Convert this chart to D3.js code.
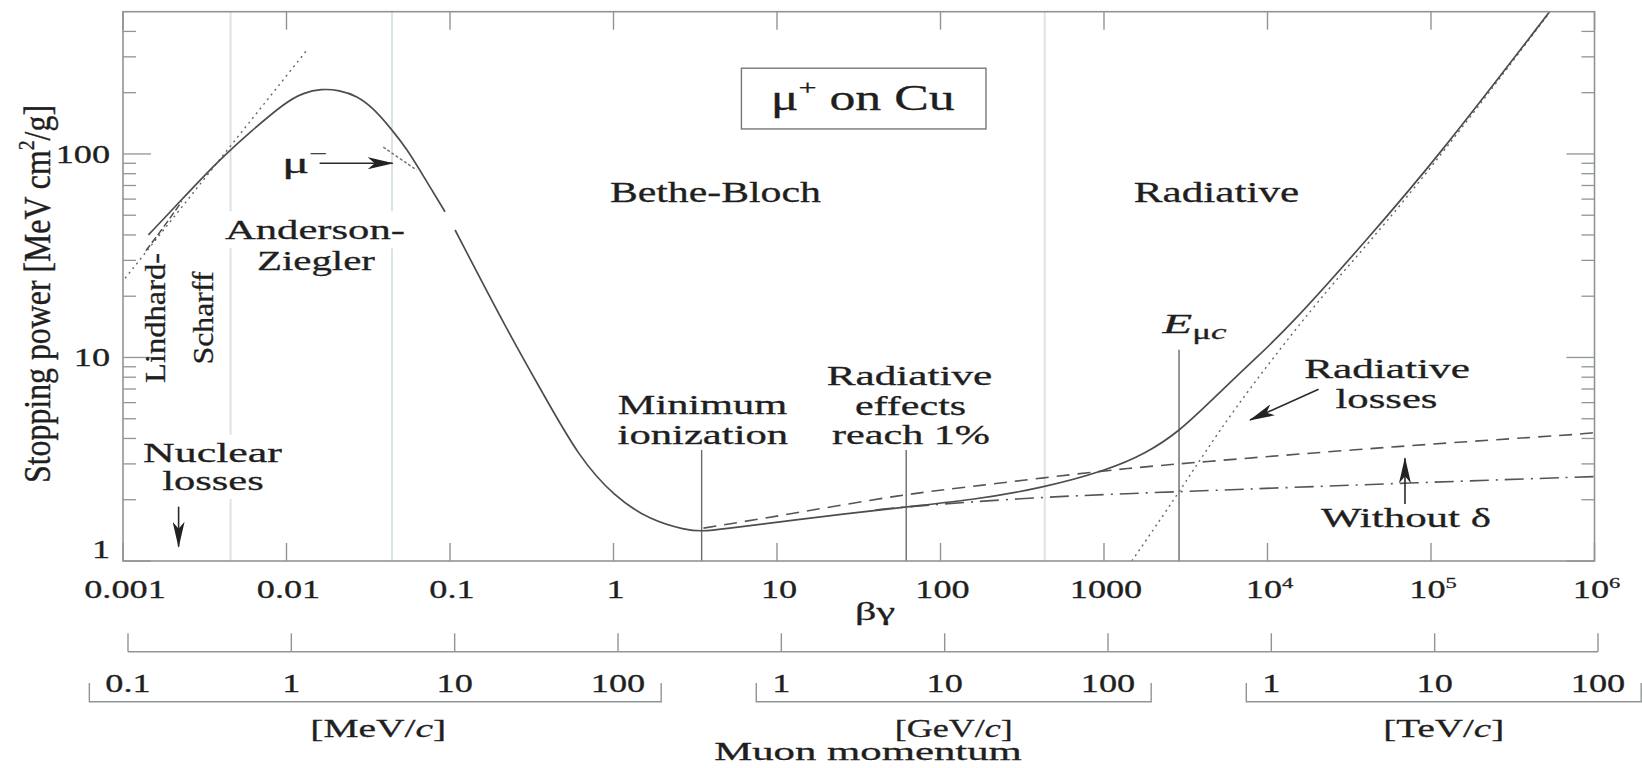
<!DOCTYPE html>
<html><head><meta charset="utf-8">
<script src="https://cdn.jsdelivr.net/npm/d3@7"></script>
<style>
html,body{margin:0;padding:0;background:#fff;}
svg{display:block;}
text{font-family:"Liberation Serif","DejaVu Serif",serif;fill:#1f1f1f;stroke:#1f1f1f;stroke-width:0.3px;}
</style></head><body>
<svg id="chart" width="1642" height="768"></svg>
<script>
// ---------------- DATA ----------------
const betaGammaTicks = [1e-3, 1e-2, 1e-1, 1, 10, 100, 1e3, 1e4, 1e5, 1e6];
const betaGammaTickLabels = ["0.001", "0.01", "0.1", "1", "10", "100", "1000", "10^4", "10^5", "10^6"];
const stoppingTicks = [1, 10, 100];
const stoppingTickLabels = ["1", "10", "100"];
const momentumTicksMeV = [0.1, 1, 10, 100, 1e3, 1e4, 1e5, 1e6, 1e7, 1e8];
const momentumTickLabels = ["0.1", "1", "10", "100", "1", "10", "100", "1", "10", "100"];
const momentumUnits = ["MeV", "GeV", "TeV"];
const momentumUnitOfTick = [0, 0, 0, 0, 1, 1, 1, 2, 2, 2];

// [βγ, stopping power MeV cm²/g]
const andersonZieglerCurve = [[0.00143, 40.0], [0.00208, 55], [0.00303, 76], [0.00421, 99], [0.00598, 128], [0.00989, 180], [0.0127, 200], [0.01635, 209], [0.0210, 206], [0.0270, 193], [0.0340, 168], [0.0440, 132], [0.0544, 106], [0.0687, 78], [0.0932, 52]];
const betheRadiativeCurve = [[0.1074, 42.3], [0.223, 13.65], [0.370, 6.67], [0.612, 3.25], [1.01, 2.07], [1.67, 1.59], [2.76, 1.42], [3.5, 1.40], [4.54, 1.43], [12.5, 1.59], [62.4, 1.85], [154, 1.99], [418, 2.28], [1057, 2.80], [1808, 3.38], [2877, 4.32], [4571, 6.18], [7816, 9.36], [13340, 13.9], [40450, 37.8], [110900, 97], [531000, 500]];
const withoutDensityCurve = [[3.55, 1.45], [12.5, 1.71], [60, 2.13], [154, 2.32], [1057, 2.80], [3076, 3.02], [68100, 3.69], [887000, 4.21], [1e6, 4.28]];
const ionizationCurve = [[40, 1.78], [56.5, 1.84], [418, 2.07], [2877, 2.19], [85700, 2.43], [1e6, 2.60]];
const radiativeLossCurve = [[1479, 1], [2877, 2.17], [5984, 5.4], [19820, 18.6], [40450, 35.5], [110900, 94], [531000, 495]];
const lindhardLine = [[0.00103, 24.5], [0.01334, 324]];
const lindhardScharffCurve = [[0.00138, 33.5], [0.00175, 43], [0.00229, 58.5]];
const muMinusCurve = [[0.0391, 107.9], [0.0494, 94.9], [0.0625, 83.4]];
const regionBoundaries = [0.00455, 0.0442, 434];
const markerLines = [[3.46, 3.51], [61.7, 3.51], [2877, 10.9]]; // [βγ, top value]
const arrows = [[[0.01594, 90.0], [0.04462, 90.0]], [[0.002188, 1.849], [0.002188, 1.176]], [[20540, 6.98], [7816, 4.93]], [[69320, 1.906], [69320, 3.197]]];
const titleBox = [[6.06, 263.8], [189.7, 132.7]];

// label id, text parts, anchor [βγ, value]
const annotationLabels = [
  ["bb", [["Bethe-Bloch"]], [4.20, 58.3]],
  ["rad", [["Radiative"]], [4875, 58.3]],
  ["and", [["Anderson-"]], [0.01493, 38.1]],
  ["zie", [["Ziegler"]], [0.01514, 26.9]],
  ["mum", [["μ"], ["−", "sup"]], [0.00938, 80.7]],
  ["lin", [["Lindhard-"]], [0.001806, 15.64]],
  ["sch", [["Scharff"]], [0.003553, 15.64]],
  ["nuc", [["Nuclear"]], [0.003527, 3.075]],
  ["nul", [["losses"]], [0.003552, 2.233]],
  ["min", [["Minimum"]], [3.50, 5.28]],
  ["ion", [["ionization"]], [3.52, 3.74]],
  ["re1", [["Radiative"]], [64.6, 7.33]],
  ["re2", [["effects"]], [65.6, 5.22]],
  ["re3", [["reach 1%"]], [66.0, 3.74]],
  ["emc", [["E", "i"], ["μ", "sub"], ["c", "subi"]], [3577, 13.19]],
  ["rl1", [["Radiative"]], [53830, 7.90]],
  ["rl2", [["losses"]], [53430, 5.63]],
  ["wd", [["Without δ"]], [70310, 1.474]],
  ["box", [["μ"], ["+", "sup"], [" on Cu"]], [33.4, 164.5]]
];

// ---------------- LAYOUT / STYLE ----------------
const fmt = {
  bb: {size: 30, len: 211}, rad: {size: 30, len: 165.5},
  and: {size: 28, len: 180}, zie: {size: 28, len: 118},
  mum: {size: 30, len: 45, anchor: "start"},
  lin: {size: 29, len: 130, rot: true}, sch: {size: 29, len: 93, rot: true},
  nuc: {size: 27, len: 139}, nul: {size: 27, len: 101.5},
  min: {size: 26.5, len: 169.5}, ion: {size: 26.5, len: 170.6},
  re1: {size: 26.5, len: 165.7}, re2: {size: 26.5, len: 111.2}, re3: {size: 26.5, len: 158},
  emc: {size: 28, len: 64},
  rl1: {size: 27, len: 165.6}, rl2: {size: 27, len: 102},
  wd: {size: 27, len: 170},
  box: {size: 35, len: 184}
};

const svg = d3.select("#chart");
const L = 123, R = 1594.5, T = 11.7, B = 561;
const x = d3.scaleLog().domain([1e-3, 1e6]).range([L, R]);
const y = d3.scaleLog().domain([1, 500]).range([B, T]);
const pm = d3.scaleLog().domain([0.1, 1e8]).range([128, 1598]);

const FRAME = "#8f9595", CURVE = "#4d4d4d", GRID = "#dbe3e7";

const defs = svg.append("defs");
defs.append("clipPath").attr("id", "plotclip").append("rect")
  .attr("x", L).attr("y", T).attr("width", R - L).attr("height", B - T);
defs.append("marker").attr("id", "ah").attr("markerUnits", "userSpaceOnUse")
  .attr("markerWidth", 26).attr("markerHeight", 12).attr("refX", 25).attr("refY", 6)
  .attr("orient", "auto")
  .append("path").attr("d", "M0,0 L26,6 L0,12 L7,6 Z").attr("fill", "#222");

const gGrid = svg.append("g");
const gBg = svg.append("g");
const gLines = svg.append("g");
const gCurves = svg.append("g").attr("clip-path", "url(#plotclip)");
const gAxes = svg.append("g");
const gText = svg.append("g");
const gArrows = svg.append("g");

// region boundaries
gGrid.selectAll("line").data(regionBoundaries).join("line")
  .attr("x1", d => x(d)).attr("x2", d => x(d)).attr("y1", T).attr("y2", B)
  .attr("stroke", GRID).attr("stroke-width", 2);

// marker vertical lines
gLines.selectAll("line").data(markerLines).join("line")
  .attr("x1", d => x(d[0])).attr("x2", d => x(d[0]))
  .attr("y1", d => y(d[1])).attr("y2", y(1))
  .attr("stroke", "#6a6a6a").attr("stroke-width", 1.4);

// curves
const line = d3.line().x(d => x(d[0])).y(d => y(d[1])).curve(d3.curveBasis);
const straight = d3.line().x(d => x(d[0])).y(d => y(d[1]));
function curve(data, dash, w, color, gen) {
  gCurves.append("path").attr("d", (gen || line)(data)).attr("fill", "none")
    .attr("stroke", color || CURVE).attr("stroke-width", w || 1.7)
    .attr("stroke-dasharray", dash || null).attr("stroke-linecap", "butt");
}
curve(lindhardLine, "2,4", 1.4, "#666", straight);
curve(lindhardScharffCurve, "7,3", 1.5);
curve(radiativeLossCurve, "2,4", 1.4, "#666");
curve(withoutDensityCurve, "13,8", 1.6, "#555");
curve(ionizationCurve, "19,7,2,7", 1.6, "#555");
curve(muMinusCurve, "3,2", 1.5, "#777");
curve(andersonZieglerCurve, null, 1.7);
curve(betheRadiativeCurve, null, 1.7);

// frame and ticks
gAxes.append("rect").attr("x", L).attr("y", T).attr("width", R - L).attr("height", B - T)
  .attr("fill", "none").attr("stroke", FRAME).attr("stroke-width", 1.6);
betaGammaTicks.forEach(v => {
  gAxes.append("line").attr("x1", x(v)).attr("x2", x(v)).attr("y1", B).attr("y2", B - 18).attr("stroke", FRAME).attr("stroke-width", 1.4);
  gAxes.append("line").attr("x1", x(v)).attr("x2", x(v)).attr("y1", T).attr("y2", T + 18).attr("stroke", FRAME).attr("stroke-width", 1.4);
});
const yMinor = [];
[1, 10, 100].forEach(dec => { for (let k = 2; k <= 9; k++) if (dec * k < 500) yMinor.push(dec * k); });
function yTick(v, len) {
  gAxes.append("line").attr("x1", L).attr("x2", L + len).attr("y1", y(v)).attr("y2", y(v)).attr("stroke", FRAME).attr("stroke-width", 1.3);
  gAxes.append("line").attr("x1", R).attr("x2", R - len).attr("y1", y(v)).attr("y2", y(v)).attr("stroke", FRAME).attr("stroke-width", 1.3);
}
stoppingTicks.forEach(v => yTick(v, 28));
yMinor.forEach(v => yTick(v, 13));

// generic label
function drawLabel(parent, parts, cx, cy, f) {
  const outer = parent.append("g");
  let tr = `translate(${cx},${cy})`;
  if (f.sx) tr += ` scale(${f.sx},1)`;
  if (f.rot) tr += " rotate(-90)";
  const t = outer.append("g").attr("transform", tr).append("text")
    .attr("x", 0).attr("y", 0).attr("text-anchor", f.anchor || "middle")
    .style("font-size", f.size + "px");
  if (f.len) t.attr("textLength", f.len).attr("lengthAdjust", "spacingAndGlyphs");
  let shift = 0;
  parts.forEach(([s, st]) => {
    const ts = t.append("tspan").text(s);
    st = st || "";
    let target = 0;
    if (st.startsWith("sup")) { target = -0.42 * f.size; ts.style("font-size", (0.62 * f.size) + "px"); }
    else if (st.startsWith("sub")) { target = 0.22 * f.size; ts.style("font-size", (0.72 * f.size) + "px"); }
    if (st === "i" || st === "subi") ts.style("font-style", "italic");
    if (target !== shift) { ts.attr("dy", target - shift); shift = target; }
  });
  if (f.bg) {
    const b = outer.node().getBBox();
    gBg.append("rect").attr("x", b.x - 4).attr("y", b.y - 3).attr("width", b.width + 8).attr("height", b.height + 6).attr("fill", "#fff");
  }
  return outer;
}
function tickParts(s) {
  const m = s.match(/^10\^(\d)$/);
  return m ? [["10"], [m[1], "sup"]] : [[s]];
}

// x tick labels
betaGammaTicks.forEach((v, i) => drawLabel(gText, tickParts(betaGammaTickLabels[i]), x(v) + 2, 598.3, {size: 25, sx: 1.45}));
// y tick labels (bottom one lifted off the axis)
stoppingTicks.forEach((v, i) => drawLabel(gText, [[stoppingTickLabels[i]]], 110, y(v) + 8.7 - (i === 0 ? 12 : 0), {size: 25, sx: 1.45, anchor: "end"}));

// axis titles
drawLabel(gText, [["βγ"]], 875, 620, {size: 26, len: 40});
drawLabel(gText, [["Stopping power [MeV cm"], ["2", "sup"], ["/g]"]], 50, 294, {size: 28, len: 378, rot: true, sx: 1.35});

// momentum axis
gAxes.append("line").attr("x1", pm(momentumTicksMeV[0])).attr("x2", pm(momentumTicksMeV[momentumTicksMeV.length - 1]))
  .attr("y1", 651.7).attr("y2", 651.7).attr("stroke", FRAME).attr("stroke-width", 1.5);
momentumTicksMeV.forEach(v => gAxes.append("line").attr("x1", pm(v)).attr("x2", pm(v)).attr("y1", 651.7).attr("y2", 633.3).attr("stroke", FRAME).attr("stroke-width", 1.4));
const unitBoxes = momentumUnits.map(() => [Infinity, -Infinity]);
momentumTicksMeV.forEach((v, i) => {
  const g = drawLabel(gText, [[momentumTickLabels[i]]], pm(v), 691.7, {size: 25, sx: 1.45});
  const b = g.node().getBBox();
  const u = unitBoxes[momentumUnitOfTick[i]];
  u[0] = Math.min(u[0], b.x); u[1] = Math.max(u[1], b.x + b.width);
});
const unitLen = [136, 118, 121];
unitBoxes.forEach((u, k) => {
  const x0 = u[0] - 16, x1 = u[1] + 16;
  gAxes.append("path").attr("d", `M${x0},683 V701.7 H${x1} V683`).attr("fill", "none").attr("stroke", FRAME).attr("stroke-width", 1.4);
  drawLabel(gText, [["[" + momentumUnits[k] + "/"], ["c", "i"], ["]"]], (x0 + x1) / 2 + (k === 0 ? 3 : 0), 736.7, {size: 26, len: unitLen[k]});
});
drawLabel(gText, [["Muon momentum"]], 868, 760, {size: 26, len: 307.7});

// title box
gLines.append("rect").attr("x", x(titleBox[0][0])).attr("y", y(titleBox[0][1]))
  .attr("width", x(titleBox[1][0]) - x(titleBox[0][0])).attr("height", y(titleBox[1][1]) - y(titleBox[0][1]))
  .attr("fill", "#fff").attr("stroke", "#777").attr("stroke-width", 1.4);

// annotations
annotationLabels.forEach(([id, parts, at]) => {
  const f = Object.assign({bg: true}, fmt[id]);
  drawLabel(gText, parts, x(at[0]), y(at[1]), f);
});

// arrows
arrows.forEach(([a, b]) => {
  gArrows.append("line").attr("x1", x(a[0])).attr("y1", y(a[1])).attr("x2", x(b[0])).attr("y2", y(b[1]))
    .attr("stroke", "#2a2a2a").attr("stroke-width", 1.6).attr("marker-end", "url(#ah)");
});
</script>
</body></html>
